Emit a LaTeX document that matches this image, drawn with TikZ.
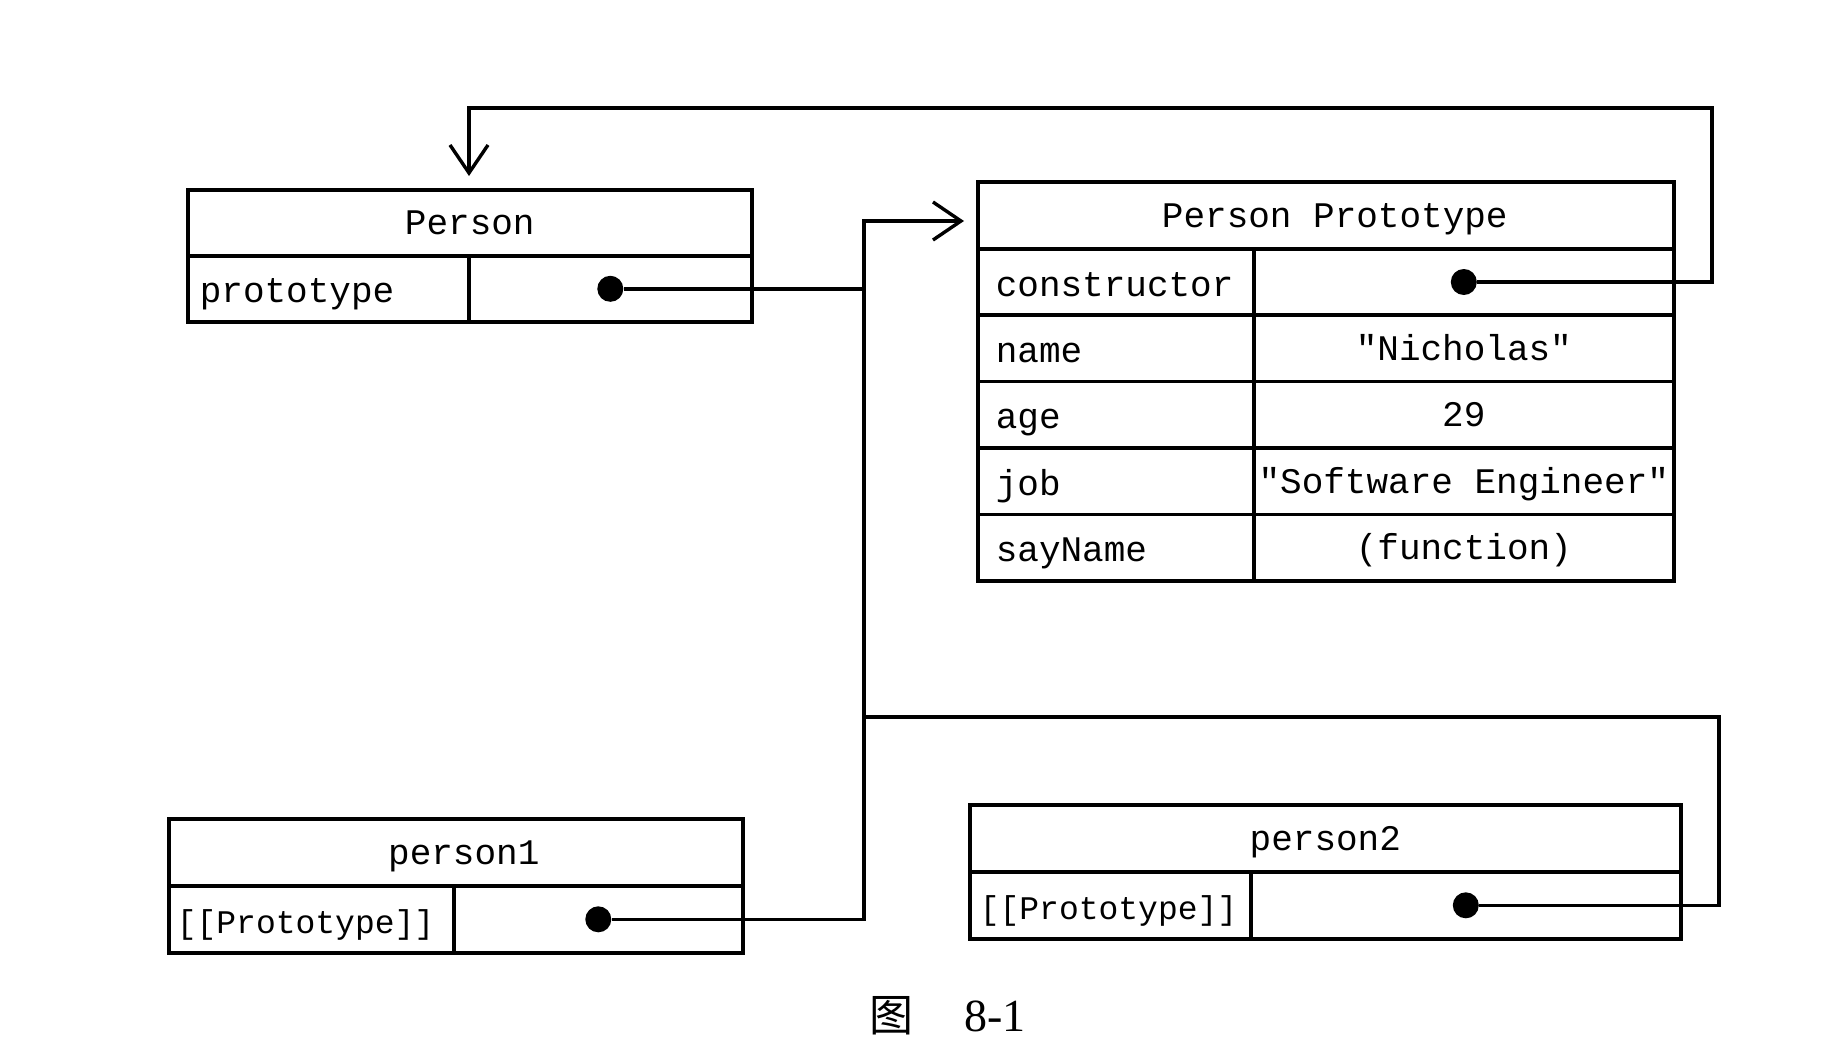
\documentclass[tikz,border=0pt]{standalone}
\usepackage{fontspec}
\newfontfamily\mono{Liberation Mono}
\newfontfamily\cjk{Noto Sans CJK SC}
\newfontfamily\capserif{Liberation Serif}
\usetikzlibrary{arrows.meta}
\begin{document}
\begin{tikzpicture}[x=1pt,y=-1pt,
  box/.style={draw, line width=3.6pt, inner sep=0pt, anchor=north west,
              text height=24pt, text depth=0pt,
              font=\mono\fontsize{36}{40}\selectfont},
  lbl/.style={text height=28pt, text depth=0pt, align=left},
  small/.style={font=\mono\fontsize{33}{38}\selectfont},
  dot/.style={circle, fill=black, inner sep=0pt, minimum size=26pt, text height=, text depth=},
  conn/.style={draw, line width=3.4pt},
  arr/.style={-{Straight Barb[length=28pt,width=38pt]}},
  captext/.style={inner sep=0pt}
]
\fill[white] (0,0) rectangle (1844,1063);
\useasboundingbox (0,0) rectangle (1844,1063);

% Person
\node[box, minimum width=564pt, minimum height=66pt] (ph) at (186,188) {Person};
\node[box, lbl, minimum width=281pt, minimum height=66pt, text width=257pt, inner xsep=12pt] (pl) at (186,254) {prototype};
\node[box, minimum width=283pt, minimum height=66pt] (pv) at (467,254) {};

% Person Prototype
\node[box, minimum width=696pt, minimum height=67pt] (pph) at (976,180) {\hspace*{18pt}Person Prototype};
\node[box, lbl, minimum width=276pt, minimum height=66.4pt, text width=240pt, inner xsep=18pt] (l1) at (976,247) {constructor};
\node[box, minimum width=420pt, minimum height=66.4pt] (v1) at (1252,247) {};
\node[box, lbl, minimum width=276pt, minimum height=66.4pt, text width=240pt, inner xsep=18pt] (l2) at (976,313.4) {name};
\node[box, minimum width=420pt, minimum height=66.4pt] (v2) at (1252,313.4) {"Nicholas"};
\node[box, lbl, minimum width=276pt, minimum height=66.4pt, text width=240pt, inner xsep=18pt] (l3) at (976,379.8) {age};
\node[box, minimum width=420pt, minimum height=66.4pt] (v3) at (1252,379.8) {29};
\node[box, lbl, minimum width=276pt, minimum height=66.4pt, text width=240pt, inner xsep=18pt] (l4) at (976,446.2) {job};
\node[box, minimum width=420pt, minimum height=66.4pt] (v4) at (1252,446.2) {"Software Engineer"};
\node[box, lbl, minimum width=276pt, minimum height=66.4pt, text width=240pt, inner xsep=18pt] (l5) at (976,512.6) {sayName};
\node[box, minimum width=420pt, minimum height=66.4pt] (v5) at (1252,512.6) {(function)};

% person1
\node[box, minimum width=574pt, minimum height=67pt] (ah) at (167,817) {\hspace*{16pt}person1};
\node[box, lbl, small, minimum width=285pt, minimum height=67pt, text width=269pt, inner xsep=8pt] (al) at (167,884) {[[Prototype]]};
\node[box, minimum width=289pt, minimum height=67pt] (av) at (452,884) {};

% person2
\node[box, minimum width=711pt, minimum height=67pt] (bh) at (968,803) {person2};
\node[box, lbl, small, minimum width=281pt, minimum height=67pt, text width=261pt, inner xsep=10pt] (bl) at (968,870) {[[Prototype]]};
\node[box, minimum width=430pt, minimum height=67pt] (bv) at (1249,870) {};

% dots
\node[dot] (pdot) at (pv) {};
\node[dot] (cdot) at (v1) {};
\node[dot] (adot) at (av) {};
\node[dot] (bdot) at (bv) {};

% routing points
\coordinate (jtop) at (864,221);
\coordinate (jmid) at (864,717);
\coordinate (ppin) at (964,221);
\coordinate (c3) at (1712,108);
\coordinate (ptop) at (469,176);
\coordinate (c2) at (1719,717);

% connectors
\draw[conn, arr] (pdot) -| (jtop) -- (ppin);
\draw[conn] (adot) -| (jtop);
\draw[conn] (bdot) -| (c2) -- (jmid);
\draw[conn, arr] (cdot) -| (c3) -| (ptop);

% caption
\node[captext, font=\cjk\fontsize{44}{48}\selectfont] (cap1) at (891,1016) {图};
\node[captext, font=\capserif\fontsize{46}{50}\selectfont] (cap2) at (995,1016) {8-1};
\end{tikzpicture}
\end{document}
